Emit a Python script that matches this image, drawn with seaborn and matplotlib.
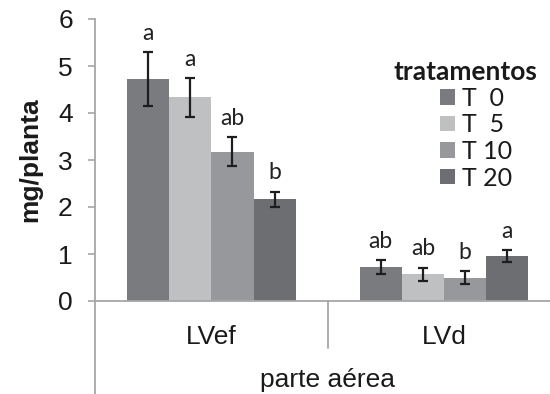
import matplotlib
matplotlib.use("Agg")
import matplotlib.pyplot as plt
import seaborn as sns
import pandas as pd
from matplotlib.patches import Patch

# ---- data ----
categories = ["LVef", "LVd"]
treatments = ["T  0", "T  5", "T 10", "T 20"]
values = {
    "LVef": [4.72, 4.33, 3.18, 2.16],
    "LVd": [0.72, 0.57, 0.50, 0.96],
}
errors = {
    "LVef": [0.57, 0.41, 0.30, 0.16],
    "LVd": [0.15, 0.14, 0.13, 0.12],
}
letters = {
    "LVef": ["a", "a", "ab", "b"],
    "LVd": ["ab", "ab", "b", "a"],
}
colors = ["#7a7b7f", "#bfc0c2", "#97989b", "#6d6e72"]

rows = []
for c in categories:
    for t, v in zip(treatments, values[c]):
        rows.append({"cat": c, "trat": t, "val": v})
df = pd.DataFrame(rows)

sns.set_style("white")
plt.rcParams["font.family"] = ["Liberation Sans", "DejaVu Sans"]
hum = ["Lato", "DejaVu Sans"]
txt = "#1a1a1a"

fig = plt.figure(figsize=(5.5, 3.94), dpi=100)
ax = fig.add_axes([95 / 550, (394 - 301) / 394, 465.5 / 550, 282 / 394])

sns.barplot(data=df, x="cat", y="val", hue="trat", order=categories,
            hue_order=treatments, palette=colors, width=0.725,
            errorbar=None, saturation=1, linewidth=0, ax=ax, legend=False)

ax.set_xlim(-0.5, 1.5)
ax.set_ylim(0, 6)
ax.set_yticks(range(0, 7))

# error bars and letters, from bar patches
bar_containers = list(ax.containers)
for hi, cont in enumerate(bar_containers):
    for ci, bar in enumerate(cont.patches):
        c = categories[ci]
        x = bar.get_x() + bar.get_width() / 2
        v = values[c][hi]
        e = errors[c][hi]
        ax.errorbar(x, v, yerr=e, fmt="none", ecolor="#1e1e1e",
                    elinewidth=1.6, capsize=3.8, capthick=1.6, zorder=5)
        ax.annotate(letters[c][hi], (x, v + e), xytext=(0, 9),
                    textcoords="offset points", ha="center", va="baseline",
                    fontsize=16.5, family=hum, color="#222222")

grey = "#a6a6a6"
for s in ["top", "right"]:
    ax.spines[s].set_visible(False)
ax.spines["left"].set_color(grey)
ax.spines["bottom"].set_color(grey)
ax.spines["left"].set_linewidth(1.3)
ax.spines["bottom"].set_linewidth(1.3)

# lower category frame lines
trans = ax.get_xaxis_transform()
ax.plot([-0.5, -0.5], [0, -93 / 282], transform=trans, color=grey,
        lw=1.3, clip_on=False)
ax.plot([0.5, 0.5], [0, -47 / 282], transform=trans, color=grey,
        lw=1.3, clip_on=False)

ax.tick_params(axis="y", which="both", left=True, length=5, width=1.2,
               color=grey, labelsize=19, pad=11, labelcolor=txt)
ax.tick_params(axis="x", bottom=False, length=0, labelsize=19, pad=17,
               labelcolor=txt)
ax.set_xlabel("parte aérea", fontsize=19, labelpad=14, color=txt)
ax.set_ylabel("mg/planta", fontsize=19, fontweight="bold",
              labelpad=11, color=txt)

handles = [Patch(facecolor=col, edgecolor="none") for col in colors]
leg = fig.legend(handles, treatments, frameon=False,
                 loc="upper left", bbox_to_anchor=(440 / 550, 1 - 87 / 394),
                 prop={"family": hum, "size": 18},
                 handlelength=0.58, handleheight=0.58, handletextpad=0.3,
                 labelspacing=0.14, borderpad=0, borderaxespad=0)
for t in leg.get_texts():
    t.set_color(txt)
fig.text(465 / 550, 1 - 72 / 394, "tratamentos", ha="center", va="center",
         fontsize=19, fontweight="bold", family=hum, color=txt)

fig.savefig("out.png", dpi=100)
